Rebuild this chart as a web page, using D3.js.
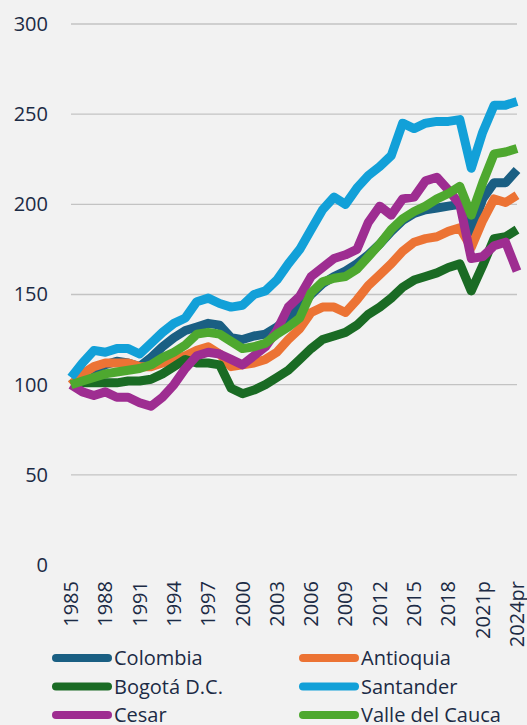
<!DOCTYPE html>
<html>
<head>
<meta charset="utf-8">
<script src="https://cdn.jsdelivr.net/npm/d3@7"></script>
<style>
  body { margin: 0; background: #f2f2f2; }
  svg text { font-family: "Open Sans", sans-serif; fill: #1c2b45; }
</style>
</head>
<body>
<div id="chart"></div>
<script>
// years 1985..2024, last ones provisional
const years = d3.range(1985, 2025)
const tickLabels = ["1985","1988","1991","1994","1997","2000","2003","2006","2009","2012","2015","2018","2021p","2024pr"]
const yTicks = [0, 50, 100, 150, 200, 250, 300]

const colombia = [100,104,108,111,113,112,110,115,121,126,130,132,134,133,126,125,127,128,132,137,143,150,156,160,163,167,172,178,185,191,195,197,198,199,200,185,203,212,212,219]
const antioquia = [100,106,110,112,112,112,110,110,112,114,116,119,121,117,110,111,112,114,118,125,131,140,143,143,140,147,155,161,167,174,179,181,182,185,187,176,191,203,201,205]
const bogota = [100,101,101,101,101,102,102,103,106,110,114,112,112,111,98,95,97,100,104,108,114,120,125,127,129,133,139,143,148,154,158,160,162,165,167,152,166,181,182,186]
const santander = [104,112,119,118,120,120,117,123,129,134,137,146,148,145,143,144,150,152,158,167,175,186,197,204,200,209,216,221,227,245,242,245,246,246,247,220,240,255,255,257]
const cesar = [100,96,94,96,93,93,90,88,93,100,109,116,118,117,114,111,116,121,130,143,149,160,165,170,172,175,190,199,194,203,204,213,215,208,200,170,171,177,179,163]
const valle = [100,102,104,106,107,108,109,111,115,118,122,128,129,128,124,120,121,123,128,132,137,151,157,159,160,164,171,178,186,192,196,199,203,206,210,194,212,228,229,231]

const seriesNames = ["Colombia","Antioquia","Bogotá D.C.","Santander","Cesar","Valle del Cauca"]
const seriesValues = [colombia, antioquia, bogota, santander, cesar, valle]
const colors = ["#1a5f83","#ec7334","#1a6b24","#12a0d8","#9e2d91","#4ea82f"]

const width = 527, height = 725
const margin = {top: 24, left: 71, right: 10}
const plotRight = 517, plotBottom = 565

const svg = d3.select("#chart").append("svg")
  .attr("width", width)
  .attr("height", height)

const x = d3.scalePoint()
  .domain(years)
  .range([margin.left, plotRight])

const y = d3.scaleLinear()
  .domain([0, 300])
  .range([plotBottom, margin.top])

// gridlines (no line at zero)
svg.selectAll(".grid")
  .data(yTicks.filter(d => d > 0))
  .join("line")
  .attr("x1", margin.left)
  .attr("x2", plotRight)
  .attr("y1", d => y(d))
  .attr("y2", d => y(d))
  .attr("stroke", "#c3c3c3")
  .attr("stroke-width", 1.3)

// y labels
const yAxis = d3.axisLeft(y).tickValues(yTicks).tickSize(0).tickPadding(0)
const gy = svg.append("g").attr("transform", "translate(48,0)").call(yAxis)
gy.select(".domain").remove()
gy.selectAll("text").style("font-size", "20px").attr("fill", "#1c2b45")

// x labels, rotated
const labelYear = d => d === "2021p" ? 2021 : d === "2024pr" ? 2024 : +d
svg.selectAll(".xlab")
  .data(tickLabels)
  .join("text")
  .attr("transform", d => `translate(${x(labelYear(d))},581) rotate(-90)`)
  .attr("text-anchor", "end")
  .attr("dy", "0.35em")
  .style("font-size", "20px")
  .text(d => d)

// lines
const line = d3.line()
  .x((d, i) => x(years[i]))
  .y(d => y(d))

svg.selectAll(".series")
  .data(seriesValues)
  .join("path")
  .attr("d", line)
  .attr("fill", "none")
  .attr("stroke", (d, i) => colors[i])
  .attr("stroke-width", 9)
  .attr("stroke-linejoin", "round")

// legend, two columns
const legend = svg.selectAll(".leg")
  .data(seriesNames)
  .join("g")
  .attr("transform", (d, i) => `translate(${i % 2 === 0 ? 56 : 303},${658 + Math.floor(i / 2) * 28.5})`)

legend.append("line")
  .attr("x1", 0).attr("x2", 52)
  .attr("stroke", (d, i) => colors[i])
  .attr("stroke-width", 8)
  .attr("stroke-linecap", "round")

legend.append("text")
  .attr("x", 58)
  .attr("dy", "0.35em")
  .style("font-size", "20px")
  .text(d => d)
</script>
</body>
</html>
